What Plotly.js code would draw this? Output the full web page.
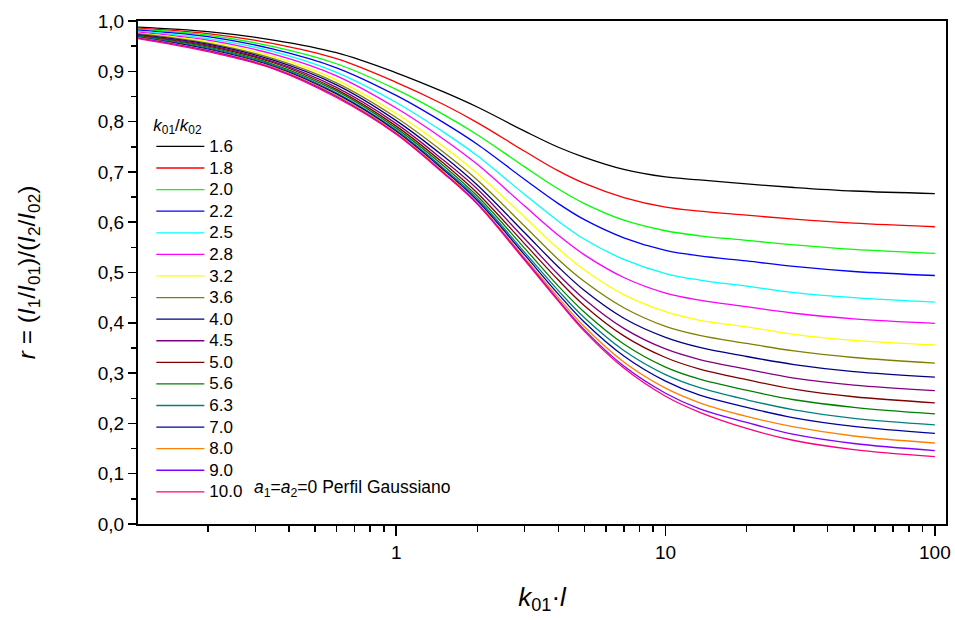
<!DOCTYPE html>
<html>
<head>
<meta charset="utf-8">
<script src="https://cdn.plot.ly/plotly-3.0.1.min.js"></script>
<style>html,body{margin:0;padding:0;background:#fff;}#chart{width:955px;height:620px;}</style>
</head>
<body>
<div id="chart"></div>
<script>
// k01·l sample positions
const xVals = [0.11, 0.2, 0.35, 0.6, 1, 1.5, 2, 3, 4, 5, 7, 10, 13.4, 20, 30, 50, 100];

// k01/k02 ratios (legend labels)
const ratioLabels = ["1.6","1.8","2.0","2.2","2.5","2.8","3.2","3.6","4.0","4.5","5.0","5.6","6.3","7.0","8.0","9.0","10.0"];

// r values, one array per ratio
const r_1_6  = [0.988,0.979,0.962,0.937,0.897,0.859,0.829,0.781,0.749,0.729,0.705,0.690,0.684,0.676,0.669,0.662,0.657];
const r_1_8  = [0.986,0.975,0.955,0.925,0.878,0.834,0.798,0.741,0.702,0.677,0.649,0.630,0.622,0.614,0.606,0.598,0.591];
const r_2_0  = [0.984,0.972,0.949,0.915,0.864,0.814,0.774,0.710,0.666,0.637,0.604,0.583,0.573,0.564,0.555,0.546,0.538];
const r_2_2  = [0.982,0.969,0.944,0.907,0.852,0.798,0.755,0.685,0.637,0.605,0.569,0.544,0.533,0.523,0.512,0.502,0.494];
const r_2_5  = [0.980,0.965,0.939,0.898,0.838,0.779,0.732,0.655,0.602,0.566,0.526,0.498,0.485,0.473,0.460,0.450,0.441];
const r_2_8  = [0.978,0.962,0.934,0.891,0.827,0.765,0.715,0.632,0.574,0.535,0.490,0.459,0.445,0.432,0.419,0.408,0.399];
const r_3_2  = [0.976,0.959,0.929,0.883,0.816,0.750,0.697,0.610,0.547,0.505,0.456,0.422,0.405,0.392,0.377,0.365,0.356];
const r_3_6  = [0.975,0.956,0.925,0.877,0.808,0.739,0.684,0.592,0.526,0.482,0.430,0.393,0.375,0.359,0.344,0.331,0.320];
const r_4_0  = [0.973,0.954,0.922,0.873,0.802,0.731,0.674,0.579,0.511,0.464,0.409,0.371,0.351,0.333,0.317,0.303,0.292];
const r_4_5  = [0.972,0.952,0.919,0.868,0.796,0.723,0.666,0.567,0.496,0.447,0.389,0.348,0.327,0.308,0.290,0.276,0.265];
const r_5_0  = [0.971,0.950,0.917,0.864,0.791,0.717,0.658,0.557,0.485,0.434,0.374,0.331,0.308,0.287,0.268,0.253,0.241];
const r_5_6  = [0.970,0.948,0.914,0.861,0.787,0.712,0.652,0.548,0.473,0.421,0.358,0.312,0.288,0.266,0.247,0.232,0.219];
const r_6_3  = [0.969,0.946,0.912,0.857,0.783,0.707,0.647,0.540,0.464,0.410,0.345,0.297,0.271,0.247,0.227,0.210,0.197];
const r_7_0  = [0.968,0.944,0.910,0.855,0.781,0.704,0.643,0.535,0.457,0.401,0.334,0.284,0.256,0.232,0.211,0.194,0.180];
const r_8_0  = [0.967,0.942,0.908,0.852,0.778,0.700,0.639,0.529,0.450,0.392,0.322,0.270,0.241,0.214,0.193,0.175,0.161];
const r_9_0  = [0.966,0.941,0.906,0.850,0.776,0.698,0.637,0.526,0.445,0.386,0.314,0.260,0.229,0.202,0.178,0.160,0.146];
const r_10_0 = [0.965,0.939,0.905,0.848,0.775,0.697,0.636,0.524,0.443,0.383,0.310,0.254,0.222,0.190,0.166,0.148,0.134];

const seriesList = [r_1_6,r_1_8,r_2_0,r_2_2,r_2_5,r_2_8,r_3_2,r_3_6,r_4_0,r_4_5,r_5_0,r_5_6,r_6_3,r_7_0,r_8_0,r_9_0,r_10_0];

const colors = ["#000000","#FF0000","#00FF00","#0000FF","#00FFFF","#FF00FF","#FFFF00","#808000","#000080","#800080","#800000","#008000","#008080","#0000A0","#FF8000","#8000FF","#FF0080"];

const xMajorTicks = [1, 10, 100];
const xMajorText = ["1", "10", "100"];
const xMinorTicks = [0.2,0.3,0.4,0.5,0.6,0.7,0.8,0.9,2,3,4,5,6,7,8,9,20,30,40,50,60,70,80,90];

const FONT = "Arial, Liberation Sans, sans-serif";

const traces = seriesList.map((ys, i) => ({
  type: "scatter",
  mode: "lines",
  x: xVals,
  y: ys,
  name: '<span style="font-size:17px">' + ratioLabels[i] + '</span>',
  line: {color: colors[i], width: 1.3, shape: "spline", smoothing: 1}
}));

const layout = {
  width: 955, height: 620,
  margin: {l: 138, r: 9, t: 21, b: 96},
  paper_bgcolor: "#fff", plot_bgcolor: "#fff",
  separators: ",.",
  font: {family: FONT, color: "#000"},
  showlegend: true,
  legend: {
    x: 0.0165, y: 0.826, xanchor: "left", yanchor: "top",
    bgcolor: "rgba(0,0,0,0)", borderwidth: 0,
    font: {family: FONT, size: 14.3, color: "#000"},
    itemwidth: 48,
    title: {text: "<i>k</i><sub>01</sub>/<i>k</i><sub>02</sub>", font: {family: FONT, size: 17, color: "#000"}},
    tracegroupgap: 0
  },
  xaxis: {
    type: "log",
    range: [Math.log10(0.11), Math.log10(110)],
    tickmode: "array", tickvals: xMajorTicks, ticktext: xMajorText,
    ticks: "outside", ticklen: 10, tickwidth: 1.5, tickcolor: "#000",
    minor: {tickmode: "array", tickvals: xMinorTicks, ticks: "outside", ticklen: 6, tickwidth: 1.5, tickcolor: "#000", showgrid: false},
    showline: true, linewidth: 2, linecolor: "#000", mirror: true,
    showgrid: false, zeroline: false,
    tickfont: {family: FONT, size: 19, color: "#000"},
    title: {text: "<i>k</i><sub>01</sub>·<i>l</i>", font: {family: FONT, size: 26, color: "#000"}, standoff: 26}
  },
  yaxis: {
    range: [0, 1],
    dtick: 0.1, tick0: 0, tickformat: ".1f",
    ticks: "outside", ticklen: 8, tickwidth: 1.5, tickcolor: "#000",
    minor: {dtick: 0.05, ticks: "outside", ticklen: 5, tickwidth: 1.5, tickcolor: "#000", showgrid: false},
    showline: true, linewidth: 2, linecolor: "#000", mirror: true,
    showgrid: false, zeroline: false,
    tickfont: {family: FONT, size: 19, color: "#000"},
    title: {text: "<i>r</i> = (<i>I</i><sub>1</sub>/<i>I</i><sub>01</sub>)/(<i>I</i><sub>2</sub>/<i>I</i><sub>02</sub>)", font: {family: FONT, size: 24.5, color: "#000"}, standoff: 55}
  },
  annotations: [{
    xref: "paper", yref: "paper", x: 0.141, y: 0.071, xanchor: "left", yanchor: "middle",
    text: "<i>a</i><sub>1</sub>=<i>a</i><sub>2</sub>=0 Perfil Gaussiano",
    showarrow: false, font: {family: FONT, size: 17.5, color: "#000"}
  }]
};

Plotly.newPlot("chart", traces, layout, {displayModeBar: false, staticPlot: true});
</script>
</body>
</html>
